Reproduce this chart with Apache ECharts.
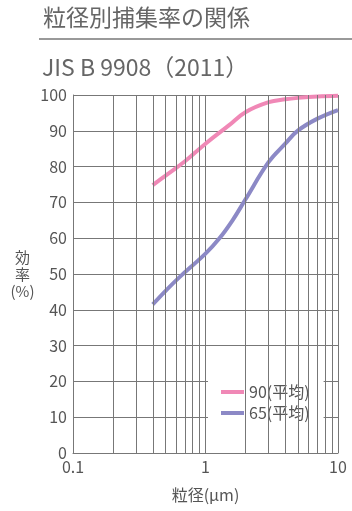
<!DOCTYPE html>
<html>
<head>
<meta charset="utf-8">
<script src="https://cdn.jsdelivr.net/npm/echarts@6/dist/echarts.min.js"></script>
<style>
  html, body { margin: 0; padding: 0; background: #fff; }
  #chart { width: 352px; height: 511px; }
</style>
</head>
<body>
<div id="chart"></div>
<script>
  // 粒径 (μm) と捕集率 (%)
  const sizes90 = [0.4, 0.5, 0.7, 1, 1.5, 2, 3, 4, 5, 7, 10];
  const eff90 = [74.8, 77.5, 81.5, 86.4, 91.5, 95.2, 98, 98.8, 99.2, 99.6, 99.8];
  const sizes65 = [0.4, 0.5, 0.64, 1, 1.27, 1.6, 2, 3, 4, 5, 7, 10];
  const eff65 = [41.5, 45.3, 49.2, 55.7, 59.9, 65, 70.8, 81.3, 86.4, 90.1, 93.4, 95.8];
  const minorGrid = [0.2, 0.3, 0.4, 0.5, 0.6, 0.7, 0.8, 0.9, 2, 3, 4, 5, 6, 7, 8, 9];
  const seriesNames = ['90(平均)', '65(平均)'];
  const seriesColors = ['#f088b6', '#8c89c6'];

  const font = '"Noto Sans CJK JP", "Noto Sans", sans-serif';
  const gridColor = '#777';
  const textColor = '#555';

  const myChart = echarts.init(document.getElementById('chart'));
  myChart.setOption({
    animation: false,
    textStyle: { fontFamily: font },
    title: [{
      text: '粒径別捕集率の関係',
      left: 38, top: 1,
      textStyle: { fontSize: 23, fontWeight: 'normal', color: '#666', fontFamily: font }
    }, {
      text: 'JIS B 9908（2011）',
      left: 37, top: 51,
      textStyle: { fontSize: 23, fontWeight: 'normal', color: '#666', fontFamily: font }
    }],
    graphic: [{
      type: 'line',
      shape: { x1: 39, y1: 39, x2: 352, y2: 39 },
      style: { stroke: '#777', lineWidth: 1.5 }
    }],
    legend: {
      data: seriesNames,
      orient: 'vertical',
      left: 208, top: 378,
      backgroundColor: '#fff',
      padding: [6, 14, 8, 13],
      itemWidth: 23, itemHeight: 4, itemGap: 5,
      icon: 'rect',
      textStyle: { fontSize: 16, color: textColor, fontFamily: font }
    },
    grid: { left: 73, right: 14, top: 95, bottom: 58 },
    xAxis: {
      type: 'log',
      logBase: 10,
      min: 0.1, max: 10,
      name: '粒径(μm)',
      nameLocation: 'middle',
      nameGap: 34,
      nameTextStyle: { fontSize: 16, color: textColor },
      axisLine: { lineStyle: { color: gridColor, width: 1 } },
      axisTick: { show: false },
      axisLabel: { fontSize: 16, color: textColor, margin: 6 },
      splitLine: { show: true, lineStyle: { color: gridColor, width: 1 } }
    },
    yAxis: {
      type: 'value',
      min: 0, max: 100, interval: 10,
      name: '効\n率\n(%)',
      nameLocation: 'middle',
      nameRotate: 0,
      nameGap: 48,
      nameTextStyle: { fontSize: 15, color: textColor, lineHeight: 17, align: 'center' },
      axisLine: { show: true, lineStyle: { color: gridColor, width: 1 } },
      axisTick: { show: false },
      axisLabel: { fontSize: 16, color: textColor, margin: 6 },
      splitLine: { lineStyle: { color: gridColor, width: 1 } }
    },
    series: [{
      name: 'grid',
      type: 'line',
      data: [],
      z: 1,
      silent: true,
      markLine: {
        silent: true,
        symbol: 'none',
        label: { show: false },
        lineStyle: { color: gridColor, width: 1, type: 'solid' },
        data: minorGrid.map(v => ({ xAxis: v }))
      }
    }, {
      name: seriesNames[0],
      type: 'line',
      smooth: 0.4,
      showSymbol: false,
      z: 3,
      color: seriesColors[0],
      lineStyle: { width: 4, color: seriesColors[0] },
      data: sizes90.map((s, i) => [s, eff90[i]])
    }, {
      name: seriesNames[1],
      type: 'line',
      smooth: 0.4,
      showSymbol: false,
      z: 3,
      color: seriesColors[1],
      lineStyle: { width: 4, color: seriesColors[1] },
      data: sizes65.map((s, i) => [s, eff65[i]])
    }]
  });
</script>
</body>
</html>
